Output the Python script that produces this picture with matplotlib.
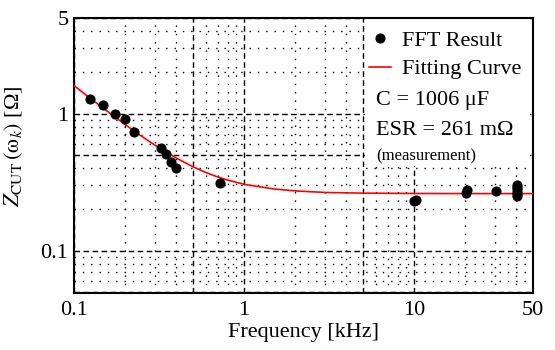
import matplotlib
matplotlib.use("Agg")
import matplotlib.pyplot as plt
from matplotlib.patches import Rectangle
from matplotlib.ticker import FixedLocator, NullFormatter

plt.rcParams.update({
    "font.family": "Liberation Serif",
    "mathtext.fontset": "stix",
    "font.size": 16,
})

# FFT result points (kHz, ohm)
fft_freq = [0.124, 0.149, 0.175, 0.200, 0.224, 0.325, 0.348, 0.373, 0.398, 0.723,
            10.0, 10.3, 20.2, 20.5, 30.5, 40.5, 40.5, 40.5, 40.5, 40.5, 40.5]
fft_z = [1.27, 1.15, 0.995, 0.92, 0.735, 0.56, 0.505, 0.446, 0.40, 0.311,
         0.232, 0.235, 0.262, 0.275, 0.272, 0.25, 0.26, 0.27, 0.28, 0.29, 0.30]

# fitting curve
fit_freq = [0.1, 0.12, 0.15, 0.2, 0.25, 0.3, 0.4, 0.5, 0.6, 0.7, 0.8, 1.0,
            1.5, 2.0, 3.0, 5.0, 10.0, 20.0, 50.0]
fit_z = [1.603, 1.344, 1.087, 0.833, 0.684, 0.588, 0.474, 0.410, 0.371, 0.345,
         0.328, 0.305, 0.282, 0.273, 0.266, 0.263, 0.2615, 0.261, 0.261]

x_major = [0.1, 0.5, 1, 5, 10, 50]
x_minor = [0.2, 0.3, 0.4, 0.6, 0.7, 0.8, 0.9, 2, 3, 4, 6, 7, 8, 9, 20, 30, 40]
x_labels = ["0.1", "", "1", "", "10", "50"]
y_major = [0.05, 0.1, 0.5, 1, 5]
y_minor = [0.06, 0.07, 0.08, 0.09, 0.2, 0.3, 0.4, 0.6, 0.7, 0.8, 0.9, 2, 3, 4]
y_labels = ["", "0.1", "", "1", "5"]

fig = plt.figure(figsize=(5.55, 3.5), dpi=100)
ax = fig.add_axes([0.1333, 0.1637, 0.8270, 0.7849])

ax.set_xscale("log")
ax.set_yscale("log")
ax.set_xlim(0.1, 50)
ax.set_ylim(0.0493, 5)

ax.xaxis.set_major_locator(FixedLocator(x_major))
ax.xaxis.set_minor_locator(FixedLocator(x_minor))
ax.yaxis.set_major_locator(FixedLocator(y_major))
ax.yaxis.set_minor_locator(FixedLocator(y_minor))
ax.set_xticklabels(x_labels)
ax.set_yticklabels(y_labels)
ax.xaxis.set_minor_formatter(NullFormatter())
ax.yaxis.set_minor_formatter(NullFormatter())
ax.tick_params(which="both", length=0, labelsize=16)
ax.tick_params(axis="x", pad=6)
ax.tick_params(axis="y", pad=4)

ax.set_axisbelow(True)
ax.grid(which="major", color="black", linestyle=(0, (4, 2.5)), linewidth=1.0)
ax.grid(which="minor", color="black", linestyle=(0, (1, 5)), linewidth=1.0)

for s in ax.spines.values():
    s.set_linewidth(1.5)

# white box behind the legend
ax.add_patch(Rectangle((0.634, 0.46), 0.36, 0.54, transform=ax.transAxes,
                       facecolor="white", edgecolor="none", zorder=1))

ax.plot(fit_freq, fit_z, "-", color="red", linewidth=1.2, label="Fitting Curve", zorder=3)
ax.plot(fft_freq, fft_z, "o", color="black", markersize=6.3, label="FFT Result", zorder=4)

h, l = ax.get_legend_handles_labels()
ax.legend(h[::-1], l[::-1], loc="upper right", frameon=False, fontsize=16,
          handlelength=1.0, handletextpad=0.5, borderaxespad=0.1, labelspacing=0.35,
          bbox_to_anchor=(1.0, 0.995))

ax.text(0.658, 0.685, "C = 1006 \u03bcF", transform=ax.transAxes, fontsize=16, zorder=5)
ax.text(0.658, 0.575, "ESR = 261 m\u03a9", transform=ax.transAxes, fontsize=16, zorder=5)
ax.text(0.658, 0.48, "(measurement)", transform=ax.transAxes, fontsize=12, zorder=5)

ax.set_xlabel("Frequency [kHz]", fontsize=16, labelpad=2)
ax.set_ylabel(r"$Z_{\mathrm{CUT}}\,(\mathrm{\omega}_k)$ [" + "\u03a9]", fontsize=16)
ax.yaxis.set_label_coords(-0.107, 0.534)

fig.savefig("out.png", dpi=100)
